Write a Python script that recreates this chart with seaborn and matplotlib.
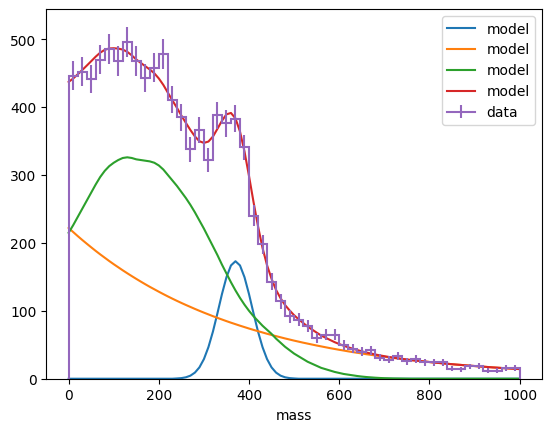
import numpy as np
import matplotlib
matplotlib.use("Agg")
import matplotlib.pyplot as plt
import seaborn as sns

# ---- data ----
bin_edges = np.linspace(0, 1000, 51)
counts = [446, 452, 441, 470, 485, 468, 496, 468, 443, 458,
          478, 411, 385, 338, 366, 322, 388, 376, 383, 341,
          240, 198, 143, 114, 92, 87, 78, 60, 65, 65,
          50, 44, 40, 42, 31, 28, 33, 26, 29, 24,
          24, 24, 15, 14, 18, 19, 12, 12, 16, 16]

mass_grid = np.arange(0, 1001, 10)

model_peak = ([0.0] * 24 +
              [0.4, 0.9, 2.1, 4.5, 9.0, 16.7, 28.9, 46.5, 69.4, 96.4,
               124.6, 149.5, 166.8, 173.0, 166.8, 149.5, 124.6, 96.4, 69.4, 46.5,
               28.9, 16.7, 9.0, 4.5, 2.1, 0.9, 0.4] +
              [0.0] * 50)

model_bkg = [222.0, 216.0, 210.1, 204.4, 198.9, 193.5, 188.2, 183.1, 178.2, 173.3,
             168.6, 164.1, 159.6, 155.3, 151.1, 147.0, 143.0, 139.1, 135.3, 131.7,
             128.1, 124.6, 121.2, 117.9, 114.7, 111.6, 108.6, 105.7, 102.8, 100.0,
             97.3, 94.7, 92.1, 89.6, 87.2, 84.8, 82.5, 80.3, 78.1, 76.0,
             73.9, 71.9, 70.0, 68.1, 66.2, 64.4, 62.7, 61.0, 59.3, 57.7,
             56.1, 54.6, 53.1, 51.7, 50.3, 48.9, 47.6, 46.3, 45.0, 43.8,
             42.6, 41.5, 40.3, 39.2, 38.2, 37.2, 36.1, 35.2, 34.2, 33.3,
             32.4, 31.5, 30.6, 29.8, 29.0, 28.2, 27.4, 26.7, 26.0, 25.3,
             24.6, 23.9, 23.3, 22.6, 22.0, 21.4, 20.8, 20.3, 19.7, 19.2,
             18.7, 18.2, 17.7, 17.2, 16.7, 16.3, 15.8, 15.4, 15.0, 14.6,
             14.2]

model_broad = ([215, 226, 238, 250, 262, 274, 286, 297, 306, 313,
                318, 322, 325, 326, 325, 323, 322, 321, 320, 318,
                314, 308, 300, 292, 284, 275, 266, 256, 245, 233,
                221, 208, 195, 182, 168, 155, 142, 130, 119, 109,
                100, 92, 85, 78, 72, 66, 59, 53, 47, 42,
                37, 33, 29, 25, 22, 19, 16, 14, 12, 10,
                8.5, 7, 6, 5, 4, 3.2, 2.5, 2, 1.5, 1.1,
                0.8, 0.6, 0.4, 0.3, 0.2, 0.1] + [0.0] * 25)

model_total = np.array(model_peak) + np.array(model_bkg) + np.array(model_broad)

# ---- plot ----
fig, ax = plt.subplots(figsize=(6.4, 4.8), dpi=100)

for y, c in [(model_peak, "C0"), (model_bkg, "C1"), (model_broad, "C2"), (model_total, "C3")]:
    sns.lineplot(x=mass_grid, y=np.asarray(y, dtype=float), ax=ax, color=c,
                 label="model", linewidth=1.5)

counts_arr = np.asarray(counts, dtype=float)
centers = 0.5 * (bin_edges[:-1] + bin_edges[1:])
ax.stairs(counts_arr, bin_edges, color="C4", linewidth=1.5, baseline=0, zorder=2.1)
ax.errorbar(centers, counts_arr, yerr=np.sqrt(counts_arr), fmt="none",
            ecolor="C4", elinewidth=1.5, zorder=2.1)
ax.errorbar([np.nan], [np.nan], yerr=[np.nan], color="C4", label="data")

ax.set_ylim(bottom=0)
ax.set_xlabel("mass")
ax.set_ylabel("")
ax.legend(loc="upper right")

fig.savefig("out.png", dpi=100, bbox_inches="tight")
